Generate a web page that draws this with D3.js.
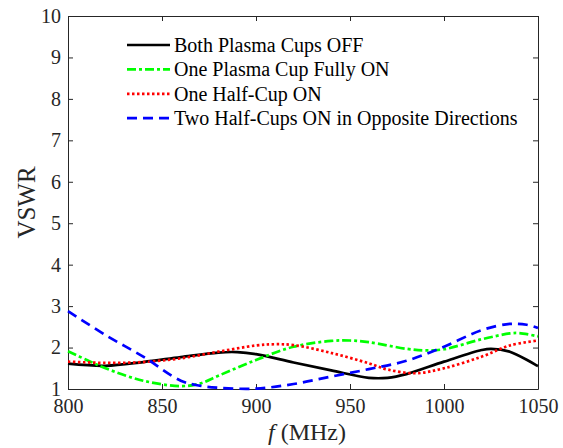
<!DOCTYPE html>
<html>
<head>
<meta charset="utf-8">
<script src="https://cdn.jsdelivr.net/npm/d3@7"></script>
<style>
  body { margin: 0; background: #fff; }
</style>
</head>
<body>
<div id="chart"></div>
<script>
// frequency samples (MHz)
const freqOff = [800, 820, 840, 860, 880, 890, 900, 920, 940, 960, 970, 980, 1000, 1020, 1025, 1035, 1050];
const vswrOff = [1.61, 1.56, 1.65, 1.77, 1.88, 1.89, 1.84, 1.64, 1.45, 1.27, 1.27, 1.36, 1.66, 1.94, 1.97, 1.90, 1.55];

const freqFull = [800, 810, 820, 840, 860, 870, 880, 900, 920, 940, 950, 960, 980, 990, 1000, 1020, 1035, 1040, 1050];
const vswrFull = [1.91, 1.70, 1.50, 1.20, 1.07, 1.13, 1.32, 1.70, 2.02, 2.16, 2.17, 2.13, 1.97, 1.93, 1.96, 2.20, 2.34, 2.35, 2.27];

const freqHalf = [800, 820, 840, 860, 880, 900, 910, 920, 940, 960, 970, 985, 1000, 1020, 1035, 1050];
const vswrHalf = [1.66, 1.63, 1.65, 1.74, 1.90, 2.05, 2.08, 2.06, 1.87, 1.62, 1.47, 1.38, 1.50, 1.78, 2.05, 2.17];

const freqTwo = [800, 820, 840, 860, 870, 880, 900, 920, 940, 960, 980, 1000, 1020, 1035, 1044, 1050];
const vswrTwo = [2.88, 2.30, 1.78, 1.20, 1.08, 1.03, 1.01, 1.12, 1.30, 1.48, 1.68, 2.02, 2.42, 2.57, 2.55, 2.47];

const xTicks = [800, 850, 900, 950, 1000, 1050];
const yTicks = [1, 2, 3, 4, 5, 6, 7, 8, 9, 10];

const series = [
  { name: "Both Plasma Cups OFF", f: freqOff, v: vswrOff, color: "#000000", dash: null },
  { name: "One Plasma Cup Fully ON", f: freqFull, v: vswrFull, color: "#00ff00", dash: "9,3,3,3" },
  { name: "One Half-Cup ON", f: freqHalf, v: vswrHalf, color: "#ff0000", dash: "2.5,2.5" },
  { name: "Two Half-Cups ON in Opposite Directions", f: freqTwo, v: vswrTwo, color: "#0000ff", dash: "10,6" }
];

const serif = "'Liberation Serif', 'DejaVu Serif', serif";
const width = 563, height = 448;
const margin = { top: 16, right: 25, bottom: 59, left: 68 };
const w = width - margin.left - margin.right;
const h = height - margin.top - margin.bottom;

const svg = d3.select("#chart").append("svg")
    .attr("width", width)
    .attr("height", height);

const g = svg.append("g")
    .attr("transform", `translate(${margin.left},${margin.top})`);

const x = d3.scaleLinear().domain([800, 1050]).range([0, w]);
const y = d3.scaleLinear().domain([1, 10]).range([h, 0]);

// axes with inward ticks (box style)
const axisColor = "#262626";
function styleAxis(sel, showText) {
  sel.attr("font-family", serif);
  sel.select(".domain").attr("stroke", axisColor);
  sel.selectAll(".tick line").attr("stroke", axisColor);
  sel.selectAll(".tick text")
      .attr("fill", axisColor)
      .style("font-family", serif)
      .style("font-size", "20px")
      .style("display", showText ? null : "none");
}

g.append("g")
    .attr("transform", `translate(0,${h})`)
    .call(d3.axisBottom(x).tickValues(xTicks).tickFormat(d3.format("d")).tickSizeInner(-5).tickSizeOuter(0).tickPadding(10))
    .call(s => styleAxis(s, true));
g.append("g")
    .call(d3.axisTop(x).tickValues(xTicks).tickSizeInner(-5).tickSizeOuter(0))
    .call(s => styleAxis(s, false));
g.append("g")
    .call(d3.axisLeft(y).tickValues(yTicks).tickSizeInner(-5).tickSizeOuter(0).tickPadding(7))
    .call(s => styleAxis(s, true));
g.append("g")
    .attr("transform", `translate(${w},0)`)
    .call(d3.axisRight(y).tickValues(yTicks).tickSizeInner(-5).tickSizeOuter(0))
    .call(s => styleAxis(s, false));

// curves
const line = d3.line()
    .x(d => x(d[0]))
    .y(d => y(d[1]))
    .curve(d3.curveCatmullRom.alpha(0.5));

series.forEach(s => {
  g.append("path")
      .datum(s.f.map((f, i) => [f, s.v[i]]))
      .attr("fill", "none")
      .attr("stroke", s.color)
      .attr("stroke-width", 2.7)
      .attr("stroke-dasharray", s.dash)
      .attr("d", line);
});

// legend
const legend = g.append("g").attr("transform", "translate(59,29)");
series.forEach((s, i) => {
  const row = legend.append("g").attr("transform", `translate(0,${i * 24.4})`);
  row.append("line")
      .attr("x1", 0).attr("x2", 43)
      .attr("stroke", s.color)
      .attr("stroke-width", 2.7)
      .attr("stroke-dasharray", s.dash);
  row.append("text")
      .attr("x", 47)
      .attr("dy", "0.35em")
      .style("font-family", serif)
      .style("font-size", "20px")
      .style("fill", "#000")
      .text(s.name);
});

// axis labels
svg.append("text")
    .attr("transform", `translate(35,${margin.top + h / 2}) rotate(-90)`)
    .attr("text-anchor", "middle")
    .style("font-family", serif)
    .style("font-size", "25px")
    .style("fill", axisColor)
    .text("VSWR");

const xl = svg.append("text")
    .attr("x", 307)
    .attr("y", 440)
    .attr("text-anchor", "middle")
    .style("font-family", serif)
    .style("font-size", "24px")
    .style("fill", axisColor);
xl.append("tspan").style("font-style", "italic").text("f");
xl.append("tspan").text(" (MHz)");
</script>
</body>
</html>
